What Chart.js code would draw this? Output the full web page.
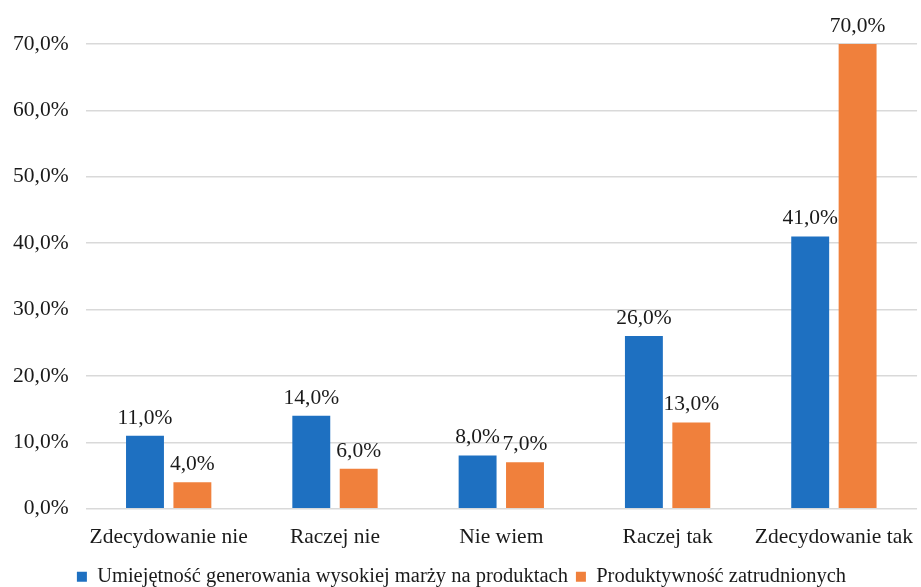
<!DOCTYPE html>
<html>
<head>
<meta charset="utf-8">
<script src="https://cdn.jsdelivr.net/npm/chart.js@4"></script>
<style>
  html, body { margin: 0; padding: 0; background: #fff; }
  #wrap { width: 921px; height: 587px; }
</style>
</head>
<body>
<div id="wrap"><canvas id="wykres" width="921" height="587"></canvas></div>
<script>
const kategorie = ["Zdecydowanie nie", "Raczej nie", "Nie wiem", "Raczej tak", "Zdecydowanie tak"];
const marza = [11, 14, 8, 26, 41];
const produktywnosc = [4, 6, 7, 13, 70];
const nazwySerii = ["Umiejętność generowania wysokiej marży na produktach", "Produktywność zatrudnionych"];

const czcionka = "'Liberation Serif', 'DejaVu Serif', serif";
const rozmiar = 21.5;

function procent(v) {
  return v.toFixed(1).replace(".", ",") + "%";
}

// etykiety z wartościami nad słupkami
const etykiety = {
  id: "etykiety",
  afterDatasetsDraw(chart) {
    const ctx = chart.ctx;
    ctx.save();
    ctx.font = rozmiar + "px " + czcionka;
    ctx.fillStyle = "#1a1a1a";
    ctx.textAlign = "center";
    ctx.textBaseline = "bottom";
    chart.data.datasets.forEach((ds, i) => {
      chart.getDatasetMeta(i).data.forEach((el, j) => {
        ctx.fillText(procent(ds.data[j]), el.x, el.y - 7);
      });
    });
    ctx.restore();
  }
};

let miCanvas = document.getElementById("wykres").getContext("2d");

new Chart(miCanvas, {
  type: "bar",
  data: {
    labels: kategorie,
    datasets: [
      { label: nazwySerii[0], data: marza, backgroundColor: "#1e70c1" },
      { label: nazwySerii[1], data: produktywnosc, backgroundColor: "#f0803c" }
    ]
  },
  options: {
    responsive: false,
    animation: false,
    layout: { padding: { top: 44, left: -4, right: -6, bottom: -10 } },
    datasets: {
      bar: { categoryPercentage: 0.57, barPercentage: 0.8 }
    },
    scales: {
      x: {
        grid: { display: false },
        border: { display: false },
        ticks: {
          color: "#1a1a1a",
          font: { family: czcionka, size: rozmiar },
          padding: 8,
          maxRotation: 0,
          minRotation: 0,
          autoSkip: false
        }
      },
      y: {
        min: 0,
        max: 70,
        grid: { color: "#d9d9d9", lineWidth: 1.5, drawTicks: false },
        border: { display: false },
        ticks: {
          stepSize: 10,
          color: "#1a1a1a",
          padding: 17,
          font: { family: czcionka, size: rozmiar },
          callback: (v) => procent(v)
        }
      }
    },
    plugins: {
      legend: {
        position: "bottom",
        labels: {
          color: "#1a1a1a",
          boxWidth: 10,
          boxHeight: 10,
          padding: 8,
          font: { family: czcionka, size: 20.5 }
        }
      },
      tooltip: { enabled: false }
    }
  },
  plugins: [etykiety]
});
</script>
</body>
</html>
